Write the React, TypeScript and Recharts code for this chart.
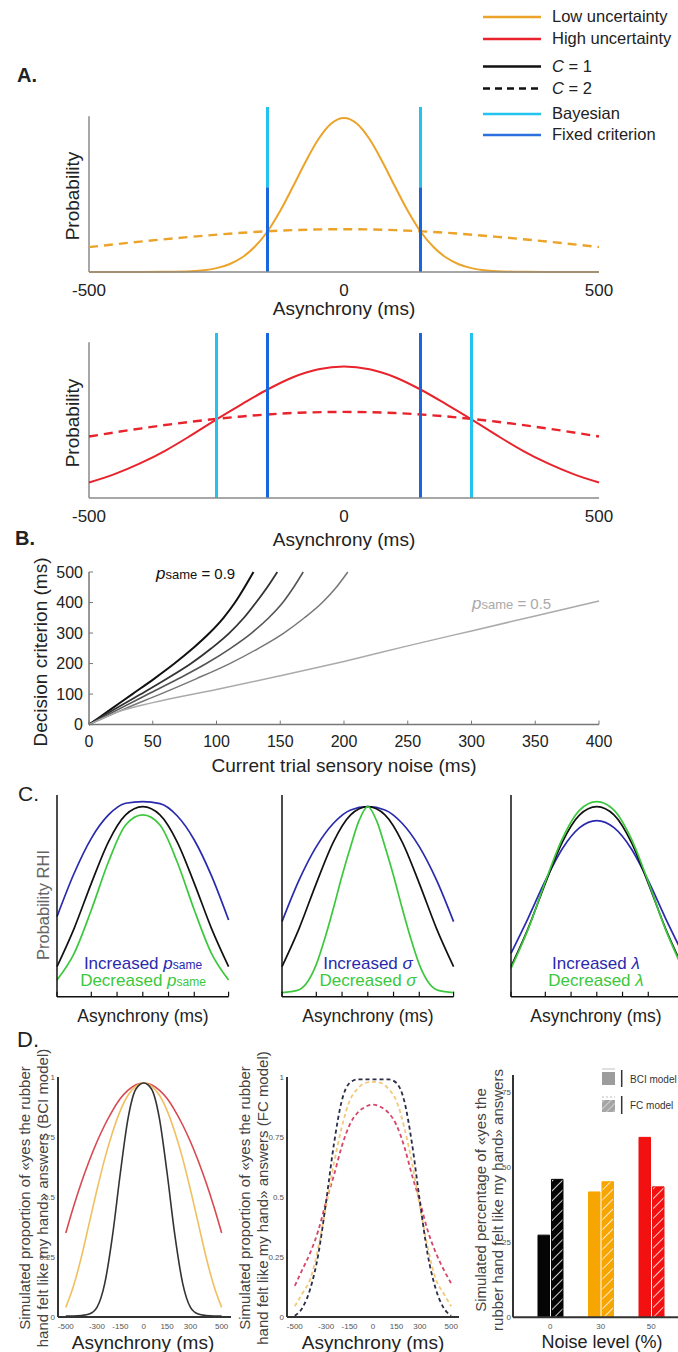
import React from 'react';
import { LineChart, Line, XAxis, YAxis, ReferenceLine, BarChart, Bar, Cell } from 'recharts';

const FONT = '"Liberation Sans", Arial, Helvetica, sans-serif';

// ---- panel A ----
const aLowX = [-500, -450, -400, -350, -300, -275, -250, -225, -200, -175, -150, -125, -100, -75, -50, -25, 0, 25, 50, 75, 100, 125, 150, 175, 200, 225, 250, 275, 300, 350, 400, 450, 500];
const aLowSolid = [0, 0, 0, 0.001, 0.005, 0.011, 0.025, 0.05, 0.093, 0.162, 0.26, 0.393, 0.549, 0.71, 0.854, 0.954, 0.99, 0.954, 0.854, 0.71, 0.549, 0.393, 0.26, 0.162, 0.093, 0.05, 0.025, 0.011, 0.005, 0.001, 0, 0, 0];
const aDashX = [-500, -400, -300, -200, -100, 0, 100, 200, 300, 400, 500];
const aLowDashed = [0.16, 0.195, 0.226, 0.252, 0.269, 0.275, 0.269, 0.252, 0.226, 0.195, 0.16];
const aHighX = [-500, -450, -400, -350, -300, -250, -200, -150, -100, -50, 0, 50, 100, 150, 200, 250, 300, 350, 400, 450, 500];
const aHighSolid = [0.099, 0.153, 0.222, 0.305, 0.402, 0.505, 0.603, 0.697, 0.776, 0.827, 0.845, 0.827, 0.776, 0.697, 0.603, 0.505, 0.402, 0.305, 0.222, 0.153, 0.099];
const aHighDashed = [0.395, 0.446, 0.49, 0.524, 0.546, 0.553, 0.546, 0.524, 0.49, 0.446, 0.395];
const fixedCriterion = [-150, 150];
const bayesLow = [-150, 150];
const bayesHigh = [-250, 250];
const asyncTicksA = [-500, 0, 500];

// ---- panel B ----
const critLevels = [0, 50, 100, 150, 200, 250, 300, 350, 400, 450, 500];
const b1X = [0, 17, 34, 51, 67, 81.5, 94.5, 105.5, 114.5, 122, 129];
const b2X = [0, 20, 40.8, 61, 80, 96, 110, 121.5, 131, 139.8, 147.7];
const b3X = [0, 23, 46.5, 70, 92, 111, 127.5, 141, 152, 160.5, 168];
const b4X = [0, 27, 56, 84, 110.4, 133, 152.8, 169, 183, 194, 203];
const b5X = [0, 25, 50, 100, 150, 200, 250, 300, 350, 400];
const b5Y = [0, 45, 72, 115, 160, 207, 258, 307, 356, 405];
const noiseTicks = [0, 50, 100, 150, 200, 250, 300, 350, 400];
const critTicks = [0, 100, 200, 300, 400, 500];

// ---- panel C ----
const cX = [-500, -400, -300, -200, -100, 0, 100, 200, 300, 400, 500];
const c1Blue = [0.397, 0.612, 0.785, 0.901, 0.959, 0.967, 0.957, 0.897, 0.777, 0.6, 0.38];
const cBlack = [0.149, 0.339, 0.562, 0.768, 0.901, 0.942, 0.901, 0.768, 0.562, 0.339, 0.149];
const c1Green = [0.083, 0.215, 0.43, 0.669, 0.851, 0.901, 0.851, 0.669, 0.43, 0.215, 0.083];
const c2Blue = [0.372, 0.579, 0.744, 0.86, 0.926, 0.942, 0.926, 0.86, 0.744, 0.579, 0.372];
const c2GreenX = [-500, -450, -400, -350, -300, -250, -200, -150, -100, -50, 0, 50, 100, 150, 200, 250, 300, 350, 400, 450, 500];
const c2Green = [0.02, 0.025, 0.034, 0.075, 0.16, 0.29, 0.44, 0.6, 0.745, 0.875, 0.942, 0.875, 0.745, 0.6, 0.44, 0.29, 0.16, 0.075, 0.034, 0.025, 0.02];
const c3Blue = [0.215, 0.39, 0.575, 0.735, 0.838, 0.873, 0.838, 0.735, 0.575, 0.39, 0.215];
const c3Green = [0.14, 0.335, 0.57, 0.785, 0.925, 0.967, 0.925, 0.785, 0.57, 0.335, 0.14];
const cTicks = [-500, -300, -150, 0, 150, 300, 500];

// ---- panel D ----
const dX = [-500, -450, -400, -350, -300, -250, -200, -150, -100, -50, 0, 50, 100, 150, 200, 250, 300, 350, 400, 450, 500];
const d1Red = [0.35, 0.46, 0.56, 0.65, 0.73, 0.8, 0.86, 0.91, 0.945, 0.968, 0.975, 0.968, 0.945, 0.91, 0.86, 0.8, 0.73, 0.65, 0.56, 0.46, 0.35];
const d1Yellow = [0.04, 0.13, 0.25, 0.39, 0.53, 0.66, 0.77, 0.86, 0.925, 0.962, 0.975, 0.962, 0.925, 0.86, 0.77, 0.66, 0.53, 0.39, 0.25, 0.13, 0.04];
const d1Black = [0.004, 0.004, 0.006, 0.012, 0.04, 0.14, 0.34, 0.6, 0.83, 0.95, 0.975, 0.95, 0.83, 0.6, 0.34, 0.14, 0.04, 0.012, 0.006, 0.004, 0.004];
const d2Dark = [0.005, 0.04, 0.12, 0.26, 0.48, 0.72, 0.9, 0.975, 0.99, 0.99, 0.99, 0.99, 0.99, 0.975, 0.9, 0.72, 0.48, 0.26, 0.12, 0.04, 0.005];
const d2Yellow = [0.045, 0.1, 0.16, 0.29, 0.46, 0.64, 0.79, 0.9, 0.95, 0.975, 0.98, 0.975, 0.95, 0.9, 0.79, 0.64, 0.46, 0.29, 0.16, 0.1, 0.045];
const d2Red = [0.13, 0.2, 0.27, 0.36, 0.48, 0.59, 0.71, 0.8, 0.85, 0.875, 0.885, 0.875, 0.85, 0.8, 0.71, 0.59, 0.48, 0.36, 0.27, 0.2, 0.14];
const dTicksX = [-500, -300, -150, 0, 150, 300, 500];
const dTicksY = [0, 0.25, 0.5, 0.75, 1];
const noiseLevels = ['0', '30', '50'];
const bciPercent = [27.4, 41.8, 60];
const fcPercent = [46, 45.2, 43.5];
const pctTicks = [0, 25, 50, 75];

const ORANGE = '#ECA32A';
const RED = '#E8232B';
const CYAN = '#22C4EF';
const BLUE = '#1866DE';
const C_BLUE = '#2A2AAE';
const C_GREEN = '#3CC83C';
const BAR_COLORS = ['#050505', '#F7A500', '#F21010'];

const pts = (xs: number[], ys: number[]) => xs.map((x, i) => ({ x, y: ys[i] }));

function place(x: number, y: number, w: number, h: number, padL: number, padB: number, mt = 4, mr = 4) {
  return {
    style: { position: 'absolute', left: x - padL, top: y - mt } as React.CSSProperties,
    width: padL + w + mr,
    height: mt + h + padB,
    margin: { top: mt, right: mr, bottom: 0, left: 0 },
  };
}

const Txt = ({ x, y, size, rot, color = '#222', weight = 400, left, lh, children }: any) => (
  <div
    style={{
      position: 'absolute',
      left: x,
      top: y,
      fontSize: size,
      fontWeight: weight,
      color,
      lineHeight: lh ? `${lh}px` : 1,
      whiteSpace: 'pre',
      textAlign: 'center',
      transform: `translate(${left ? '0' : '-50%'}, -50%)${rot ? ' rotate(-90deg)' : ''}`,
    }}
  >
    {children}
  </div>
);

const Psame = ({ p = 17, s = 12 }: { p?: number; s?: number }) => (
  <>
    <i style={{ fontSize: p }}>p</i>
    <span style={{ fontSize: s }}>same</span>
  </>
);

const AxisA = ({ pos, solid, dashed, dashX, solidX, color, bayes, split }: any) => (
  <div style={pos.style}>
    <LineChart width={pos.width} height={pos.height} margin={pos.margin}>
      <XAxis type="number" dataKey="x" domain={[-500, 500]} ticks={asyncTicksA} height={40}
        axisLine={{ stroke: '#8a8a8a', strokeWidth: 1.5 }} tickLine={false} tickSize={0} tickMargin={12}
        tick={{ fontSize: 17, fill: '#222', fontFamily: FONT }} />
      <YAxis type="number" domain={[0, 1.06]} width={30} axisLine={false} tickLine={false} tick={false} />
      <ReferenceLine segment={[{ x: -500, y: 0 }, { x: -500, y: 1 }]} stroke="#8a8a8a" strokeWidth={1.5} />
      <Line data={pts(dashX, dashed)} dataKey="y" type="monotone" stroke={color} strokeWidth={2.4}
        strokeDasharray="9 6" dot={false} isAnimationActive={false} />
      <Line data={pts(solidX, solid)} dataKey="y" type="monotone" stroke={color} strokeWidth={2}
        dot={false} isAnimationActive={false} />
      {bayes.map((b: number) => (
        <ReferenceLine key={`b${b}`} segment={[{ x: b, y: split }, { x: b, y: 1.06 }]} stroke={CYAN} strokeWidth={3} />
      ))}
      {fixedCriterion.map((f: number) => (
        <ReferenceLine key={`f${f}`} segment={[{ x: f, y: 0 }, { x: f, y: split === 0 ? 1.06 : split }]} stroke={BLUE} strokeWidth={3} />
      ))}
    </LineChart>
  </div>
);

const PanelC = ({ x, series }: any) => {
  const pos = place(x, 795, 171.6, 201.7, 10, 20, 4, 4);
  return (
    <div style={pos.style}>
      <LineChart width={pos.width} height={pos.height} margin={pos.margin}>
        <XAxis type="number" dataKey="x" domain={[-500, 500]} ticks={cTicks} height={20}
          axisLine={{ stroke: '#111', strokeWidth: 1.5 }} tickLine={{ stroke: '#111', strokeWidth: 1.2 }}
          tickSize={-5} tickFormatter={() => ''} />
        <YAxis type="number" domain={[0, 1]} width={10} axisLine={{ stroke: '#111', strokeWidth: 1.5 }}
          tickLine={false} tick={false} />
        {series.map((s: any, i: number) => (
          <Line key={i} data={pts(s.x, s.y)} dataKey="y" type="monotone" stroke={s.c} strokeWidth={1.7}
            dot={false} isAnimationActive={false} />
        ))}
      </LineChart>
    </div>
  );
};

const PanelD = ({ x, width, domain, series, dashed }: any) => {
  const pos = place(x, 1077, width, 240, 30, 20, 4, 6);
  return (
    <div style={pos.style}>
      <LineChart width={pos.width} height={pos.height} margin={pos.margin}>
        <XAxis type="number" dataKey="x" domain={domain} ticks={dTicksX} height={20}
          axisLine={{ stroke: '#333', strokeWidth: 2 }} tickLine={false} tickSize={0} tickMargin={6}
          tick={{ fontSize: 8, fill: '#555', fontFamily: FONT }} />
        <YAxis type="number" domain={[0, 1]} ticks={dTicksY} width={30} axisLine={{ stroke: '#333', strokeWidth: 2 }}
          tickLine={false} tickSize={0} tickMargin={3} tick={{ fontSize: 8, fill: '#555', fontFamily: FONT }} />
        {series.map((s: any, i: number) => (
          <Line key={i} data={pts(dX, s.y)} dataKey="y" type="monotone" stroke={s.c}
            strokeWidth={dashed ? 1.8 : 1.6} strokeDasharray={dashed ? '4 3' : undefined}
            dot={false} isAnimationActive={false} />
        ))}
      </LineChart>
    </div>
  );
};

export default function App() {
  const aTop = place(89, 107, 510, 165, 30, 40, 4, 24);
  const aBot = place(89, 333, 510, 165, 30, 40, 4, 24);
  const bPos = place(88.7, 571.7, 510, 152.6, 40, 30, 10, 24);
  const dBar = place(512.7, 1075, 165.3, 242.3, 20, 20, 4, 0);
  const barData = noiseLevels.map((n, i) => ({ noise: n, bci: bciPercent[i], fc: fcPercent[i] }));
  const bCurves = [
    { x: b1X, y: critLevels, c: '#111', w: 2 },
    { x: b2X, y: critLevels, c: '#333', w: 1.8 },
    { x: b3X, y: critLevels, c: '#555', w: 1.6 },
    { x: b4X, y: critLevels, c: '#777', w: 1.5 },
    { x: b5X, y: b5Y, c: '#aaa', w: 1.5 },
  ];

  return (
    <div style={{ position: 'absolute', left: 0, top: 0, width: 678, height: 1352, overflow: 'hidden', background: '#fff', fontFamily: FONT, color: '#222' }}>
      {/* legend for A */}
      <svg width={196} height={145} style={{ position: 'absolute', left: 482, top: 0 }} fontFamily={FONT}>
        {[
          { y: 17, c: ORANGE, t: 'Low uncertainty' },
          { y: 39, c: RED, t: 'High uncertainty' },
          { y: 66.5, c: '#111', t: '= 1', it: true },
          { y: 88.5, c: '#111', t: '= 2', it: true, dash: true },
          { y: 114, c: CYAN, t: 'Bayesian' },
          { y: 135, c: '#2C6FE0', t: 'Fixed criterion' },
        ].map((r, i) => (
          <g key={i}>
            <line x1={1} x2={59} y1={r.y} y2={r.y} stroke={r.c} strokeWidth={2.4} strokeDasharray={r.dash ? '7 5' : undefined} />
            <text x={70} y={r.y - 1} fontSize={16.5} fill="#222" dominantBaseline="central">
              {r.it ? <><tspan fontStyle="italic">C</tspan> {r.t}</> : r.t}
            </text>
          </g>
        ))}
      </svg>

      <Txt x={17} y={75} size={20} weight={700} left>A.</Txt>
      <Txt x={15} y={538} size={20} weight={700} left>B.</Txt>
      <Txt x={18} y={793} size={21} left>C.</Txt>
      <Txt x={17} y={1040} size={22} left>D.</Txt>

      {/* A */}
      <AxisA pos={aTop} solid={aLowSolid} solidX={aLowX} dashed={aLowDashed} dashX={aDashX} color={ORANGE} bayes={bayesLow} split={0.544} />
      <AxisA pos={aBot} solid={aHighSolid} solidX={aHighX} dashed={aHighDashed} dashX={aDashX} color={RED} bayes={bayesHigh} split={0} />
      <Txt x={72} y={196} size={19} rot>Probability</Txt>
      <Txt x={72} y={423} size={19} rot>Probability</Txt>
      <Txt x={344} y={308} size={19}>Asynchrony (ms)</Txt>
      <Txt x={344} y={539} size={19}>Asynchrony (ms)</Txt>

      {/* B */}
      <div style={bPos.style}>
        <LineChart width={bPos.width} height={bPos.height} margin={bPos.margin}>
          <XAxis type="number" dataKey="x" domain={[0, 400]} ticks={noiseTicks} height={30}
            axisLine={{ stroke: '#777', strokeWidth: 1.5 }} tickLine={{ stroke: '#777' }} tickSize={-4} tickMargin={15.5}
            tick={{ fontSize: 16, fill: '#222', fontFamily: FONT }} />
          <YAxis type="number" domain={[0, 500]} ticks={critTicks} width={40}
            axisLine={{ stroke: '#777', strokeWidth: 1.5 }} tickLine={{ stroke: '#777' }} tickSize={-4} tickMargin={10}
            tick={{ fontSize: 16, fill: '#222', fontFamily: FONT }} />
          {bCurves.map((s, i) => (
            <Line key={i} data={pts(s.x, s.y)} dataKey="y" type="monotone" stroke={s.c} strokeWidth={s.w}
              dot={false} isAnimationActive={false} />
          ))}
        </LineChart>
      </div>
      <Txt x={40} y={652} size={19} rot>Decision criterion (ms)</Txt>
      <Txt x={344} y={765} size={19}>Current trial sensory noise (ms)</Txt>
      <Txt x={156} y={573} size={15} left color="#111"><Psame p={17} s={13} /> = 0.9</Txt>
      <Txt x={472} y={603} size={15} left color="#aaa"><Psame p={17} s={13} /> = 0.5</Txt>

      {/* C */}
      <PanelC x={57} series={[
        { x: cX, y: c1Blue, c: C_BLUE },
        { x: cX, y: cBlack, c: '#111' },
        { x: cX, y: c1Green, c: C_GREEN },
      ]} />
      <PanelC x={282.3} series={[
        { x: cX, y: c2Blue, c: C_BLUE },
        { x: cX, y: cBlack, c: '#111' },
        { x: c2GreenX, y: c2Green, c: C_GREEN },
      ]} />
      <PanelC x={510.8} series={[
        { x: cX, y: c3Blue, c: C_BLUE },
        { x: cX, y: cBlack, c: '#111' },
        { x: cX, y: c3Green, c: C_GREEN },
      ]} />
      <Txt x={43} y={905} size={16.5} rot color="#666">Probability RHI</Txt>
      <Txt x={143} y={1017} size={17.5}>Asynchrony (ms)</Txt>
      <Txt x={368} y={1017} size={17.5}>Asynchrony (ms)</Txt>
      <Txt x={596} y={1017} size={17.5}>Asynchrony (ms)</Txt>
      <Txt x={143} y={963} size={17} color={C_BLUE}>Increased <Psame p={17} s={12} /></Txt>
      <Txt x={143} y={980} size={17} color={C_GREEN}>Decreased <Psame p={17} s={12} /></Txt>
      <Txt x={368} y={963} size={17} color={C_BLUE}>Increased <i>σ</i></Txt>
      <Txt x={368} y={980} size={17} color={C_GREEN}>Decreased <i>σ</i></Txt>
      <Txt x={596} y={963} size={17} color={C_BLUE}>Increased <i>λ</i></Txt>
      <Txt x={596} y={980} size={17} color={C_GREEN}>Decreased <i>λ</i></Txt>

      {/* D */}
      <PanelD x={58.4} width={173} domain={[-550, 560]} series={[
        { y: d1Red, c: '#D84A52' },
        { y: d1Yellow, c: '#F0C060' },
        { y: d1Black, c: '#333' },
      ]} />
      <PanelD x={286.7} width={172} domain={[-550, 550]} dashed series={[
        { y: d2Red, c: '#D5466A' },
        { y: d2Yellow, c: '#F2C878' },
        { y: d2Dark, c: '#2A2D45' },
      ]} />
      <div style={dBar.style}>
        <BarChart width={dBar.width} height={dBar.height} margin={dBar.margin} data={barData} barSize={11.5} barGap={2}>
          <defs>
            {BAR_COLORS.map((c, i) => (
              <pattern key={i} id={`hatch${i}`} width={7} height={7} patternUnits="userSpaceOnUse" patternTransform="rotate(45)">
                <rect width={7} height={7} fill={c} />
                <line x1={0} y1={0} x2={0} y2={7} stroke="#fff" strokeWidth={1.6} />
              </pattern>
            ))}
          </defs>
          <XAxis dataKey="noise" padding={{ left: 12, right: 1.8 }} height={20}
            axisLine={{ stroke: '#333', strokeWidth: 2 }} tickLine={false} tickSize={0} tickMargin={6}
            tick={{ fontSize: 8, fill: '#555', fontFamily: FONT }} />
          <YAxis type="number" domain={[0, 80.8]} ticks={pctTicks} width={20}
            axisLine={{ stroke: '#333', strokeWidth: 2 }} tickLine={false} tickSize={0} tickMargin={2}
            tick={{ fontSize: 8, fill: '#555', fontFamily: FONT }} />
          <Bar dataKey="bci" isAnimationActive={false}>
            {BAR_COLORS.map((c, i) => <Cell key={i} fill={c} stroke={c} />)}
          </Bar>
          <Bar dataKey="fc" isAnimationActive={false}>
            {BAR_COLORS.map((c, i) => <Cell key={i} fill={`url(#hatch${i})`} stroke={c} />)}
          </Bar>
        </BarChart>
      </div>
      <svg width={80} height={56} style={{ position: 'absolute', left: 598, top: 1063 }} fontFamily={FONT}>
        <defs>
          <pattern id="hatchGray" width={5} height={5} patternUnits="userSpaceOnUse" patternTransform="rotate(45)">
            <rect width={5} height={5} fill="#a5a5a5" />
            <line x1={0} y1={0} x2={0} y2={5} stroke="#eee" strokeWidth={1.2} />
          </pattern>
        </defs>
        <line x1={4} x2={17} y1={6} y2={6} stroke="#ccc" strokeWidth={1.2} />
        <rect x={4} y={9} width={13} height={13} fill="#9c9c9c" />
        <line x1={23.7} x2={23.7} y1={7} y2={24} stroke="#333" strokeWidth={1.5} />
        <text x={32} y={16} fontSize={10} fill="#333" dominantBaseline="central">BCI model</text>
        <line x1={4} x2={17} y1={34} y2={34} stroke="#bbb" strokeWidth={1.2} strokeDasharray="2 2" />
        <rect x={4} y={37} width={13} height={12} fill="url(#hatchGray)" />
        <line x1={23.7} x2={23.7} y1={33} y2={51} stroke="#333" strokeWidth={1.5} />
        <text x={32} y={42} fontSize={10} fill="#333" dominantBaseline="central">FC model</text>
      </svg>
      <Txt x={34} y={1198} size={15} rot lh={18} color="#444">{'Simulated proportion of «yes the rubber\nhand felt like my hand» answers (BCI model)'}</Txt>
      <Txt x={254} y={1198} size={15} rot lh={18} color="#444">{'Simulated proportion of «yes the rubber\nhand felt like my hand» answers (FC model)'}</Txt>
      <Txt x={488.5} y={1200} size={15} rot lh={17} color="#444">{'Simulated percentage of «yes the\nrubber hand felt like my hand» answers'}</Txt>
      <Txt x={143} y={1342} size={19}>Asynchrony (ms)</Txt>
      <Txt x={373} y={1342} size={19}>Asynchrony (ms)</Txt>
      <Txt x={602} y={1342} size={18}>Noise level (%)</Txt>
    </div>
  );
}
